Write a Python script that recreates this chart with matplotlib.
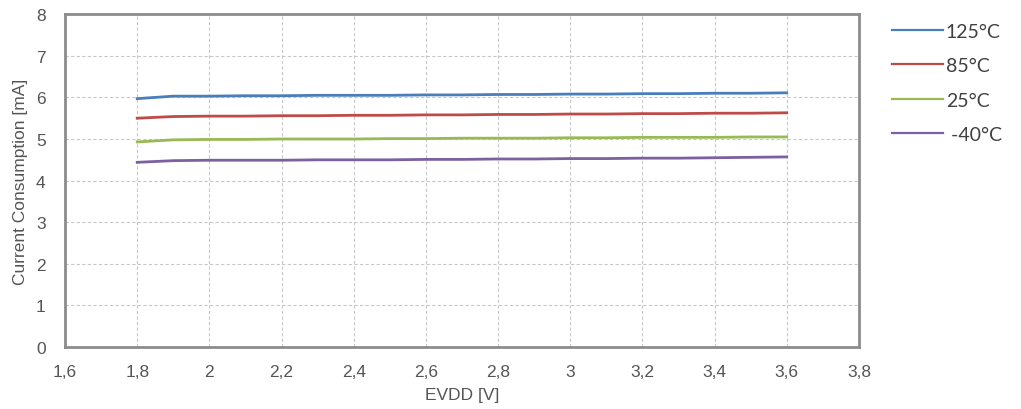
import matplotlib.pyplot as plt
from matplotlib.ticker import FuncFormatter

# supply voltage [V]
evdd = [1.8, 1.9, 2.0, 2.1, 2.2, 2.3, 2.4, 2.5, 2.6, 2.7, 2.8, 2.9,
        3.0, 3.1, 3.2, 3.3, 3.4, 3.5, 3.6]

# current consumption [mA] per temperature
i_125 = [5.97, 6.03, 6.03, 6.04, 6.04, 6.05, 6.05, 6.05, 6.06, 6.06,
         6.07, 6.07, 6.08, 6.08, 6.09, 6.09, 6.10, 6.10, 6.11]
i_85 = [5.50, 5.54, 5.55, 5.55, 5.56, 5.56, 5.57, 5.57, 5.58, 5.58,
        5.59, 5.59, 5.60, 5.60, 5.61, 5.61, 5.62, 5.62, 5.63]
i_25 = [4.93, 4.98, 4.99, 4.99, 5.00, 5.00, 5.00, 5.01, 5.01, 5.02,
        5.02, 5.02, 5.03, 5.03, 5.04, 5.04, 5.04, 5.05, 5.05]
i_m40 = [4.44, 4.48, 4.49, 4.49, 4.49, 4.50, 4.50, 4.50, 4.51, 4.51,
         4.52, 4.52, 4.53, 4.53, 4.54, 4.54, 4.55, 4.56, 4.57]

labels = ['125°C', '85°C', '25°C', ' -40°C']
colors = ['#4A7EBB', '#BE4B48', '#98B954', '#7D60A0']

plt.rcParams['font.family'] = ['Liberation Sans', 'DejaVu Sans']

fig = plt.figure(figsize=(10.21, 4.10), dpi=100)
ax = fig.add_axes([0.0637, 0.151, 0.7775, 0.812])

for ys, c, lab in zip([i_125, i_85, i_25, i_m40], colors, labels):
    ax.plot(evdd, ys, color=c, linewidth=2, label=lab)

ax.set_xlim(1.6, 3.8)
ax.set_ylim(0, 8)
ax.set_xticks([1.6 + 0.2 * k for k in range(12)])
ax.set_yticks(range(9))
fmt = FuncFormatter(lambda v, p: ('%g' % round(v, 2)).replace('.', ','))
ax.xaxis.set_major_formatter(fmt)
ax.tick_params(length=0, labelsize=12.5, colors='#555555')
ax.tick_params(axis='x', pad=12)
ax.tick_params(axis='y', pad=14)
ax.grid(True, color='#C8C8C8', linestyle=(0, (3, 2)), linewidth=0.8)
for s in ax.spines.values():
    s.set_color('#8C8C8C')
    s.set_linewidth(2)

ax.set_xlabel('EVDD [V]', fontsize=12.5, color='#555555', labelpad=6)
ax.set_ylabel('Current Consumption [mA]', fontsize=12.5, color='#555555', labelpad=6)

leg = ax.legend(loc='upper left', bbox_to_anchor=(1.02, 1.027), frameon=False,
                prop={'family': ['Lato', 'DejaVu Sans'], 'size': 14},
                handlelength=2.6, handletextpad=0.15, labelspacing=0.9)
for t in leg.get_texts():
    t.set_color('#404040')
for h in leg.get_lines():
    h.set_linewidth(1.6)

fig.savefig('out.png', dpi=100)
